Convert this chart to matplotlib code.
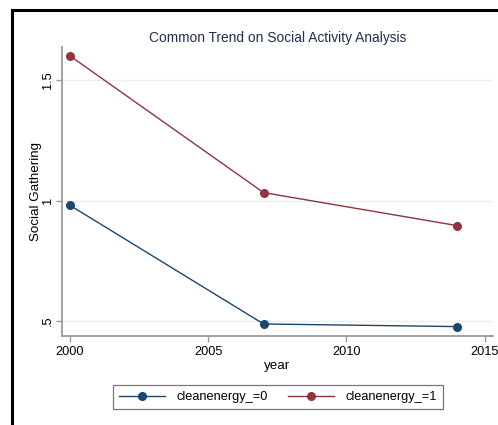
import matplotlib.pyplot as plt
from matplotlib.lines import Line2D

# data
years = [2000, 2007, 2014]
clean0 = [0.98, 0.488, 0.477]
clean1 = [1.60, 1.033, 0.896]
x_ticks = [2000, 2005, 2010, 2015]
y_ticks = [0.5, 1.0, 1.5]
y_ticklabels = [".5", "1", "1.5"]

navy = "#1a476f"
maroon = "#90353b"
axis_gray = "#9a9a9a"

plt.rcParams["font.family"] = ["Liberation Sans", "DejaVu Sans"]

fig = plt.figure(figsize=(4.98, 4.25), dpi=100)
ax = fig.add_axes([0.1245, 0.2094, 0.8655, 0.68])

ax.plot(years, clean0, color=navy, lw=1.0, marker="o", ms=5.5,
        label="cleanenergy_=0")
ax.plot(years, clean1, color=maroon, lw=1.0, marker="o", ms=5.5,
        label="cleanenergy_=1")

ax.set_xlim(1999.71, 2015.3)
ax.set_ylim(0.438, 1.637)
ax.set_xticks(x_ticks)
ax.set_yticks(y_ticks)
ax.set_yticklabels(y_ticklabels, rotation=90, va="center")
ax.tick_params(axis="both", colors=axis_gray, labelcolor="black",
               labelsize=9.2, length=4, width=1)
ax.tick_params(axis="y", pad=1.5)
ax.grid(axis="y", color="#eaf1f3", lw=1)
ax.set_axisbelow(True)

for side in ["top", "right"]:
    ax.spines[side].set_visible(False)
for side in ["left", "bottom"]:
    ax.spines[side].set_color(axis_gray)
    ax.spines[side].set_linewidth(1.3)

ax.set_xlabel("year", fontsize=9.6, labelpad=1)
ax.set_ylabel("Social Gathering", fontsize=9.6)
ax.yaxis.set_label_coords(-0.047, 0.5)
ax.set_title("Common Trend on Social Activity Analysis", fontsize=9.9,
             color="#1e2d4f", pad=3.8)

leg = fig.legend(loc="center", bbox_to_anchor=(278 / 498, 1 - 397 / 425),
                 ncol=2, frameon=True, fancybox=False, fontsize=9.2,
                 handlelength=3.6, columnspacing=1.6, borderpad=0.45,
                 handletextpad=0.9)
leg.get_frame().set_edgecolor("#555555")
leg.get_frame().set_linewidth(0.9)

# outer frame of the cropped graph window
fig.add_artist(Line2D([12 / 498, 12 / 498], [0, 1 - 10 / 425],
                      color="black", lw=2.2))
fig.add_artist(Line2D([12 / 498, 1], [1 - 10 / 425, 1 - 10 / 425],
                      color="black", lw=2.2))

fig.savefig("out.png", dpi=100)
